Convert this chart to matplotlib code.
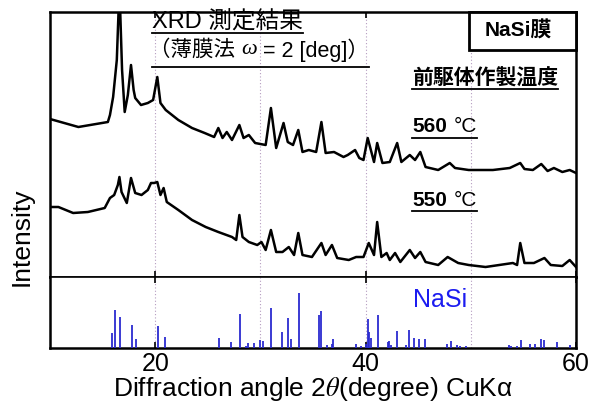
import matplotlib
matplotlib.use("Agg")
import matplotlib.pyplot as plt
from matplotlib.patches import Rectangle
from matplotlib.lines import Line2D

plt.rcParams['font.family'] = ['Liberation Sans', 'Noto Sans CJK JP', 'DejaVu Sans']
plt.rcParams['mathtext.fontset'] = 'stix'

# 560 C sample (2theta, intensity a.u.)
deg_560 = [10.0, 12.7, 15.5, 15.7, 16.0, 16.35, 16.6, 16.85, 17.1, 17.4, 17.7, 17.95,
           18.1, 18.65, 19.3, 19.8, 20.2, 20.5, 21.0, 22.2, 23.5, 24.7, 25.6, 26.0,
           26.4, 26.8, 27.3, 28.0, 28.4, 28.9, 29.5, 30.5, 31.0, 31.5, 32.2, 32.6,
           33.1, 33.6, 34.0, 34.6, 35.3, 35.8, 36.2, 37.0, 37.9, 38.3, 39.0, 39.4,
           39.8, 40.2, 40.8, 41.1, 41.6, 42.3, 43.0, 43.4, 44.2, 44.7, 45.2, 45.7,
           46.9, 48.0, 48.5, 49.8, 52.1, 53.7, 54.7, 55.1, 55.9, 56.7, 57.3, 57.9,
           58.7, 59.4, 60.0]
int_560 = [158, 150, 155, 162, 180, 217, 290, 207, 165, 182, 212, 187,
           179, 172, 174, 177, 200, 174, 167, 157, 149, 144, 140, 149,
           139, 145, 137, 152, 139, 142, 134, 132, 169, 129, 154, 135,
           132, 147, 125, 127, 125, 155, 124, 125, 120, 122, 127, 119,
           117, 139, 115, 134, 114, 115, 134, 115, 122, 117, 125, 110,
           107, 114, 109, 107, 107, 109, 114, 108, 107, 113, 106, 109,
           105, 107, 104]

# 550 C sample
deg_550 = [10.0, 10.8, 12.2, 13.6, 15.2, 15.7, 16.1, 16.45, 16.6, 16.8, 17.3, 17.7,
           18.1, 18.7, 19.3, 19.6, 19.9, 20.2, 20.5, 20.8, 21.1, 22.2, 23.5, 24.8,
           26.0, 27.3, 27.7, 28.0, 28.3, 28.9, 29.7, 30.1, 30.5, 31.0, 31.5, 32.1,
           32.7, 33.2, 33.6, 34.0, 34.9, 35.8, 36.2, 36.8, 37.3, 38.4, 39.1, 39.8,
           40.3, 40.8, 41.1, 41.5, 42.0, 42.3, 42.8, 43.3, 44.2, 44.7, 45.2, 45.7,
           46.9, 47.8, 48.8, 49.8, 51.4, 52.7, 54.0, 54.4, 54.7, 55.1, 56.0, 57.0,
           57.6, 58.7, 59.4, 60.0]
int_550 = [70, 70, 64, 65, 69, 79, 82, 92, 100, 85, 74, 99,
           84, 82, 87, 94, 94, 95, 82, 89, 75, 67, 57, 50,
           45, 40, 37, 62, 40, 35, 32, 35, 27, 47, 25, 25,
           30, 22, 44, 22, 20, 34, 22, 32, 19, 17, 20, 20,
           34, 22, 55, 20, 24, 17, 24, 15, 27, 19, 25, 15,
           12, 20, 14, 12, 10, 12, 14, 12, 34, 14, 14, 19,
           12, 11, 17, 10]

# NaSi reference pattern
ref_deg = [15.86, 16.15, 16.65, 17.76, 18.2, 20.24, 20.93, 26.06, 27.2, 28.07,
           28.6, 28.8, 29.4, 30.0, 30.2, 31.0, 32.1, 32.65, 32.9, 33.7,
           35.6, 35.8, 36.3, 36.8, 36.9, 39.1, 39.6, 40.0, 40.2, 40.35,
           40.5, 41.15, 42.15, 42.25, 42.4, 42.95, 43.8, 44.15, 44.6, 45.1,
           45.65, 47.7, 48.1, 48.65, 49.0, 49.5, 53.6, 53.8, 54.4, 54.75,
           55.6, 56.1, 56.7, 57.0, 58.2, 59.4]
ref_int = [15, 38, 31, 23, 9, 22, 11, 10, 6, 34,
           2, 5, 5, 8, 7, 40, 16, 30, 9, 55,
           33, 37, 3, 4, 9, 4, 2, 4, 29, 16,
           10, 33, 6, 7, 3, 17, 3, 18, 10, 9,
           9, 4, 7, 3, 2, 2, 3, 2, 2, 8,
           4, 4, 9, 8, 6, 3]

W, H = 592, 404
fig = plt.figure(figsize=(W / 100, H / 100), dpi=100)
gs = fig.add_gridspec(2, 1, left=50 / W, right=576 / W, top=1 - 12 / H, bottom=1 - 348 / H,
                      height_ratios=[265, 71], hspace=0)
ax = fig.add_subplot(gs[0])
axr = fig.add_subplot(gs[1], sharex=ax)

grid_kw = dict(color='#b59cc0', linestyle=(0, (1, 2)), linewidth=0.8, zorder=0)
for a in (ax, axr):
    for g in (20, 30, 40, 50):
        a.axvline(g, **grid_kw)
    for s in a.spines.values():
        s.set_linewidth(1.8)
    a.set_yticks([])

ax.plot(deg_560, int_560, color='black', lw=1.8, zorder=3)
ax.plot(deg_550, int_550, color='black', lw=1.8, zorder=3)
ax.set_ylim(0, 265)
ax.set_xlim(10, 60)

axr.vlines(ref_deg, 0, ref_int, color='#2b2bd0', lw=1.3, zorder=3)
axr.set_ylim(0, 71)
axr.spines['top'].set_linewidth(1.2)

for a in (ax, axr):
    a.set_xticks([20, 40, 60])
    a.tick_params(axis='x', direction='in', length=4, width=1.2, top=True, labelsize=18)
plt.setp(ax.get_xticklabels(), visible=False)
axr.tick_params(axis='x', pad=3)
axr.set_xlabel('Diffraction angle 2$\\mathit{\\theta}$(degree) CuK\u03b1', fontsize=19, labelpad=-1)
ax.set_ylabel('Intensity', fontsize=19)
ax.yaxis.set_label_coords(-0.032, 0.15)


def fx(px):
    return px / W


def fy(py):
    return 1 - py / H


t1 = fig.text(fx(152), fy(22), 'XRD 測定結果', fontsize=17, va='center', ha='left', zorder=5)
t2a = fig.text(fx(149), fy(50), '（薄膜法 ', fontsize=15.5, va='center', ha='left', zorder=5)
fig.patches.append(Rectangle((fx(469), fy(50)), fx(576) - fx(469), fy(12) - fy(50),
                             transform=fig.transFigure, fill=True, facecolor='white',
                             edgecolor='black', lw=2, zorder=5))
fig.text(fx(518), fy(31), 'NaSi膜', fontsize=15, fontweight='bold', ha='center', va='center', zorder=6)
t3 = fig.text(fx(412), fy(78), '前駆体作製温度', fontsize=15, fontweight='bold', va='center', zorder=5)
t4a = fig.text(fx(412), fy(127), '560', fontsize=15, fontweight='bold', va='center', zorder=5)
t4b = fig.text(fx(454), fy(127), '°C', fontsize=15, va='center', zorder=5)
t5a = fig.text(fx(412), fy(200), '550', fontsize=15, fontweight='bold', va='center', zorder=5)
t5b = fig.text(fx(454), fy(200), '°C', fontsize=15, va='center', zorder=5)
fig.text(fx(413), fy(300), 'NaSi', fontsize=18, color='#1c1cf0', va='center', zorder=5)

fig.canvas.draw()
renderer = fig.canvas.get_renderer()

# omega part of the subtitle, placed after the CJK part
x_next = t2a.get_window_extent(renderer).x1
t2b = fig.text(x_next / W, fy(50), 'ω', fontsize=16, family='Liberation Serif', style='italic',
               va='center', ha='left', zorder=5)
fig.canvas.draw()
x_next = t2b.get_window_extent(renderer).x1
t2c = fig.text(x_next / W, fy(50), ' = 2 [deg]）', fontsize=15.5, va='center', ha='left', zorder=5)
fig.canvas.draw()


def underline(first, last, py, lw=1.3, pad_left=0):
    x0 = first.get_window_extent(renderer).x0 + pad_left
    x1 = last.get_window_extent(renderer).x1
    fig.lines.append(Line2D([x0 / W, x1 / W], [fy(py), fy(py)], transform=fig.transFigure,
                            color='black', lw=lw, zorder=6))


underline(t1, t1, 33)
underline(t2a, t2c, 67, pad_left=3)
underline(t3, t3, 89)
underline(t4a, t4b, 138)
underline(t5a, t5b, 211)

fig.savefig('out.png', dpi=100)
